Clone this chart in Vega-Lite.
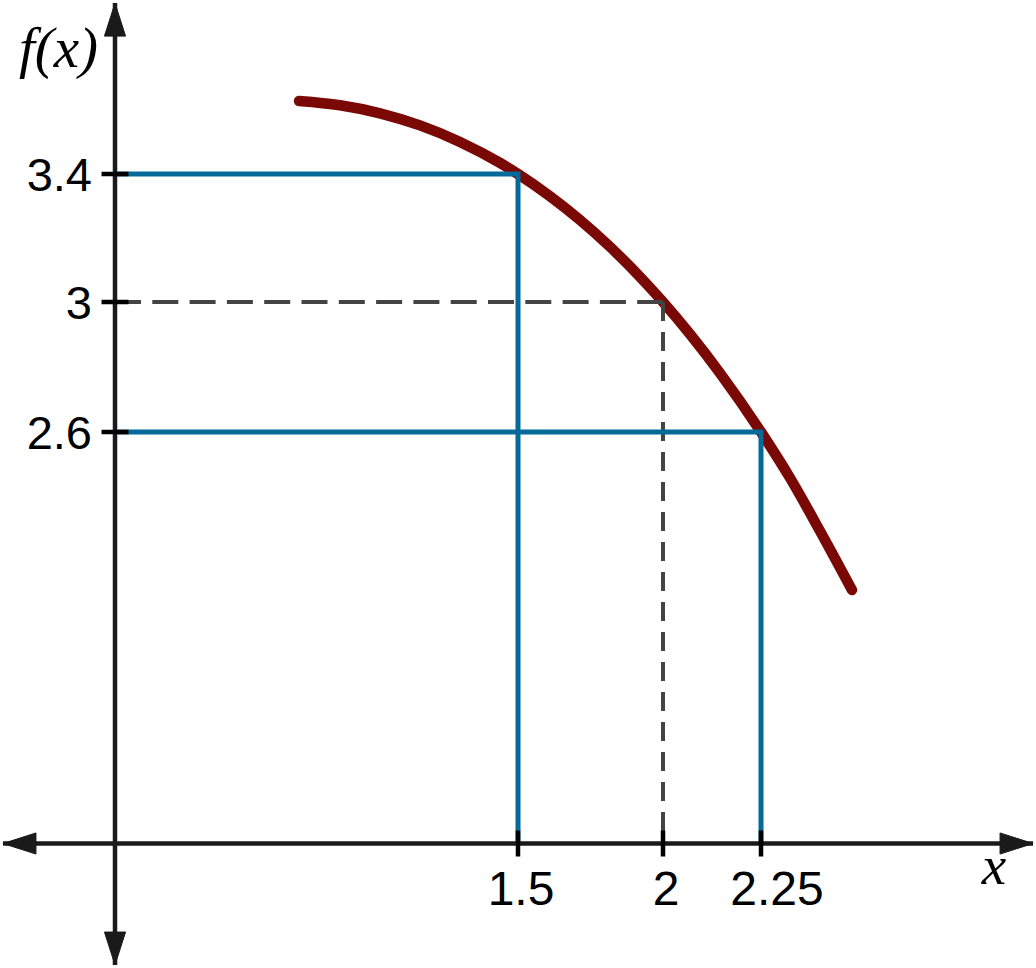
{
  "$schema": "https://vega.github.io/schema/vega-lite/v6.json",
  "width": 1036,
  "height": 968,
  "padding": 0,
  "autosize": {"type": "none"},
  "background": "white",
  "config": {"view": {"stroke": null}},
  "encoding": {
    "x": {"field": "x", "type": "quantitative", "axis": null,
      "scale": {"domain": [0, 1.5, 2, 2.25], "range": [115, 518, 663, 761], "nice": false, "zero": false}},
    "y": {"field": "y", "type": "quantitative", "axis": null,
      "scale": {"domain": [0, 2.6, 3, 3.4], "range": [843.5, 432, 302, 174], "nice": false, "zero": false}}
  },
  "layer": [
    {
      "data": {"values": [
        {"x": 0.685, "y": 3.628},
        {"x": 0.8375, "y": 3.6147},
        {"x": 0.9863, "y": 3.5897},
        {"x": 1.1352, "y": 3.5519},
        {"x": 1.2841, "y": 3.5003},
        {"x": 1.433, "y": 3.4347},
        {"x": 1.5, "y": 3.4},
        {"x": 1.6103, "y": 3.3306},
        {"x": 1.7138, "y": 3.2563},
        {"x": 1.8172, "y": 3.1725},
        {"x": 1.9207, "y": 3.0788},
        {"x": 2.0, "y": 3.0},
        {"x": 2.0689, "y": 2.9012},
        {"x": 2.1454, "y": 2.7815},
        {"x": 2.25, "y": 2.6},
        {"x": 2.324, "y": 2.31},
        {"x": 2.4005, "y": 1.9745},
        {"x": 2.4821, "y": 1.6017}
      ]},
      "mark": {"type": "line", "interpolate": "monotone", "color": "#7a0804", "strokeWidth": 10.5, "strokeCap": "round"}
    },
    {
      "data": {"values": [{"x": 0, "x2": 2, "y": 3}]},
      "mark": {"type": "rule", "color": "#444444", "strokeWidth": 4, "strokeDash": [26, 11.3]},
      "encoding": {"x2": {"field": "x2"}}
    },
    {
      "data": {"values": [{"x": 2, "y": 3, "y2": 0}]},
      "mark": {"type": "rule", "color": "#444444", "strokeWidth": 4, "strokeDash": [19, 11]},
      "encoding": {"y2": {"field": "y2"}}
    },
    {
      "data": {"values": [
        {"path": "a", "step": 1, "x": 0, "y": 3.4},
        {"path": "a", "step": 2, "x": 1.5, "y": 3.4},
        {"path": "a", "step": 3, "x": 1.5, "y": 0},
        {"path": "b", "step": 1, "x": 0, "y": 2.6},
        {"path": "b", "step": 2, "x": 2.25, "y": 2.6},
        {"path": "b", "step": 3, "x": 2.25, "y": 0}
      ]},
      "mark": {"type": "line", "color": "#036a99", "strokeWidth": 5, "strokeJoin": "miter", "strokeCap": "butt"},
      "encoding": {"detail": {"field": "path", "type": "nominal"}, "order": {"field": "step", "type": "quantitative"}}
    },
    {
      "data": {"values": [{"x": -0.417, "x2": 2.944, "y": 0}]},
      "mark": {"type": "rule", "color": "#1a1a1a", "strokeWidth": 4.5},
      "encoding": {"x2": {"field": "x2"}}
    },
    {
      "data": {"values": [{"x": 0, "y": -0.768, "y2": 3.934}]},
      "mark": {"type": "rule", "color": "#1a1a1a", "strokeWidth": 4.5},
      "encoding": {"y2": {"field": "y2"}}
    },
    {
      "data": {"values": [
        {"dir": "right", "x": 2.944, "y": 0},
        {"dir": "left", "x": -0.417, "y": 0},
        {"dir": "up", "x": 0, "y": 3.934},
        {"dir": "down", "x": 0, "y": -0.768}
      ]},
      "mark": {"type": "point", "filled": true, "opacity": 1, "color": "#1a1a1a", "size": 1089, "stroke": "#1a1a1a", "strokeWidth": 1},
      "encoding": {
        "shape": {"field": "dir", "type": "nominal", "legend": null,
          "scale": {"domain": ["right", "left", "up", "down"],
            "range": ["M0,0L-2,-0.64L-2,0.64Z", "M0,0L2,-0.64L2,0.64Z", "M0,0L-0.64,2L0.64,2Z", "M0,0L-0.64,-2L0.64,-2Z"]}}
      }
    },
    {
      "data": {"values": [{"x": 1.5, "y": 0}, {"x": 2, "y": 0}, {"x": 2.25, "y": 0}]},
      "mark": {"type": "point", "shape": "M0,-1L0,1", "size": 676, "filled": false, "opacity": 1, "color": "#000000", "strokeWidth": 4.5}
    },
    {
      "data": {"values": [{"x": 0, "y": 3.4}, {"x": 0, "y": 3}, {"x": 0, "y": 2.6}]},
      "mark": {"type": "point", "shape": "M-1,0L1,0", "size": 729, "filled": false, "opacity": 1, "color": "#000000", "strokeWidth": 4.5}
    },
    {
      "data": {"values": [
        {"x": 0, "y": 3.4, "label": "3.4"},
        {"x": 0, "y": 3, "label": "3"},
        {"x": 0, "y": 2.6, "label": "2.6"}
      ]},
      "mark": {"type": "text", "font": "Liberation Sans", "fontSize": 47, "align": "right", "baseline": "alphabetic", "dx": -23, "dy": 17, "color": "#000000"},
      "encoding": {"text": {"field": "label", "type": "nominal"}}
    },
    {
      "data": {"values": [
        {"x": 1.5, "y": 0, "label": "1.5"},
        {"x": 2, "y": 0, "label": "2"}
      ]},
      "mark": {"type": "text", "font": "Liberation Sans", "fontSize": 48, "align": "center", "baseline": "alphabetic", "dx": 3, "dy": 61, "color": "#000000"},
      "encoding": {"text": {"field": "label", "type": "nominal"}}
    },
    {
      "data": {"values": [
        {"x": 2.25, "y": 0, "label": "2.25"}
      ]},
      "mark": {"type": "text", "font": "Liberation Sans", "fontSize": 48, "align": "center", "baseline": "alphabetic", "dx": 16, "dy": 61, "color": "#000000"},
      "encoding": {"text": {"field": "label", "type": "nominal"}}
    },
    {
      "data": {"values": [{"x": 0, "y": 3.934, "label": "f(x)"}]},
      "mark": {"type": "text", "font": "Liberation Serif", "fontStyle": "italic", "fontSize": 57, "align": "left", "baseline": "alphabetic", "dx": -96, "dy": 64, "color": "#000000"},
      "encoding": {"text": {"field": "label", "type": "nominal"}}
    },
    {
      "data": {"values": [{"x": 2.944, "y": 0, "label": "x"}]},
      "mark": {"type": "text", "font": "Liberation Serif", "fontStyle": "italic", "fontSize": 55, "align": "center", "baseline": "alphabetic", "dx": -39, "dy": 40, "color": "#000000"},
      "encoding": {"text": {"field": "label", "type": "nominal"}}
    }
  ]
}
